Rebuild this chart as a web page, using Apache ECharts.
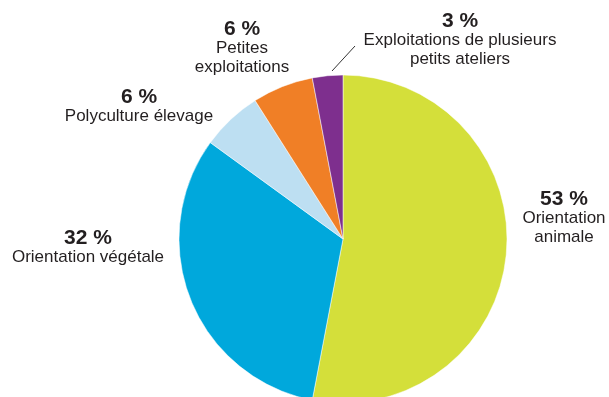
<!DOCTYPE html>
<html lang="fr">
<head>
  <meta charset="UTF-8">
  <title>Orientation des exploitations</title>
  <script src="https://cdn.jsdelivr.net/npm/echarts@6/dist/echarts.min.js"></script>
  <style>
    html, body { margin: 0; padding: 0; background: #fff; }
    #main { width: 609px; height: 397px; }
  </style>
</head>
<body>
<div id="main"></div>
<script>
  // données (sens horaire depuis midi)
  var categories = ['Orientation\nanimale', 'Orientation végétale', 'Polyculture élevage', 'Petites\nexploitations', 'Exploitations de plusieurs\npetits ateliers'];
  var values = [53, 32, 6, 6, 3];
  var colors = ['#d4df3a', '#00a8dc', '#bddff2', '#f07f26', '#7e2f8e'];

  // position des étiquettes : [centre x, haut y]
  var labelPos = [[564, 189], [88, 228], [139, 87], [242, 19], [460, 11]];

  var myChart = echarts.init(document.getElementById('main'));

  var pieData = [];
  for (var i = 0; i < values.length; i++) {
    pieData.push({ name: categories[i], value: values[i], itemStyle: { color: colors[i] } });
  }

  var option = {
    animation: false,
    series: [
      {
        type: 'pie',
        center: [343, 239],
        radius: 164,
        startAngle: 90,
        clockwise: true,
        data: pieData,
        itemStyle: { borderColor: '#ffffff', borderWidth: 0.5 },
        label: {
          show: true,
          overflow: 'none',
          formatter: function (p) {
            var lines = p.name.split('\n').map(function (l) { return '{n|' + l + '}'; });
            return '{p|' + p.value + ' %}\n' + lines.join('\n');
          },
          rich: {
            p: { fontFamily: 'Liberation Sans', fontWeight: 'bold', fontSize: 21, color: '#231f20', lineHeight: 20, align: 'center' },
            n: { fontFamily: 'Liberation Sans', fontSize: 17, color: '#231f20', lineHeight: 19, align: 'center' }
          }
        },
        labelLine: { show: false },
        labelLayout: function (params) {
          var pos = labelPos[params.dataIndex];
          return { x: pos[0], y: pos[1], align: 'center', verticalAlign: 'top' };
        }
      }
    ],
    graphic: [
      {
        type: 'line',
        shape: { x1: 355, y1: 46, x2: 332, y2: 71 },
        style: { stroke: '#333333', lineWidth: 1 }
      }
    ]
  };
  myChart.setOption(option);
</script>
</body>
</html>
